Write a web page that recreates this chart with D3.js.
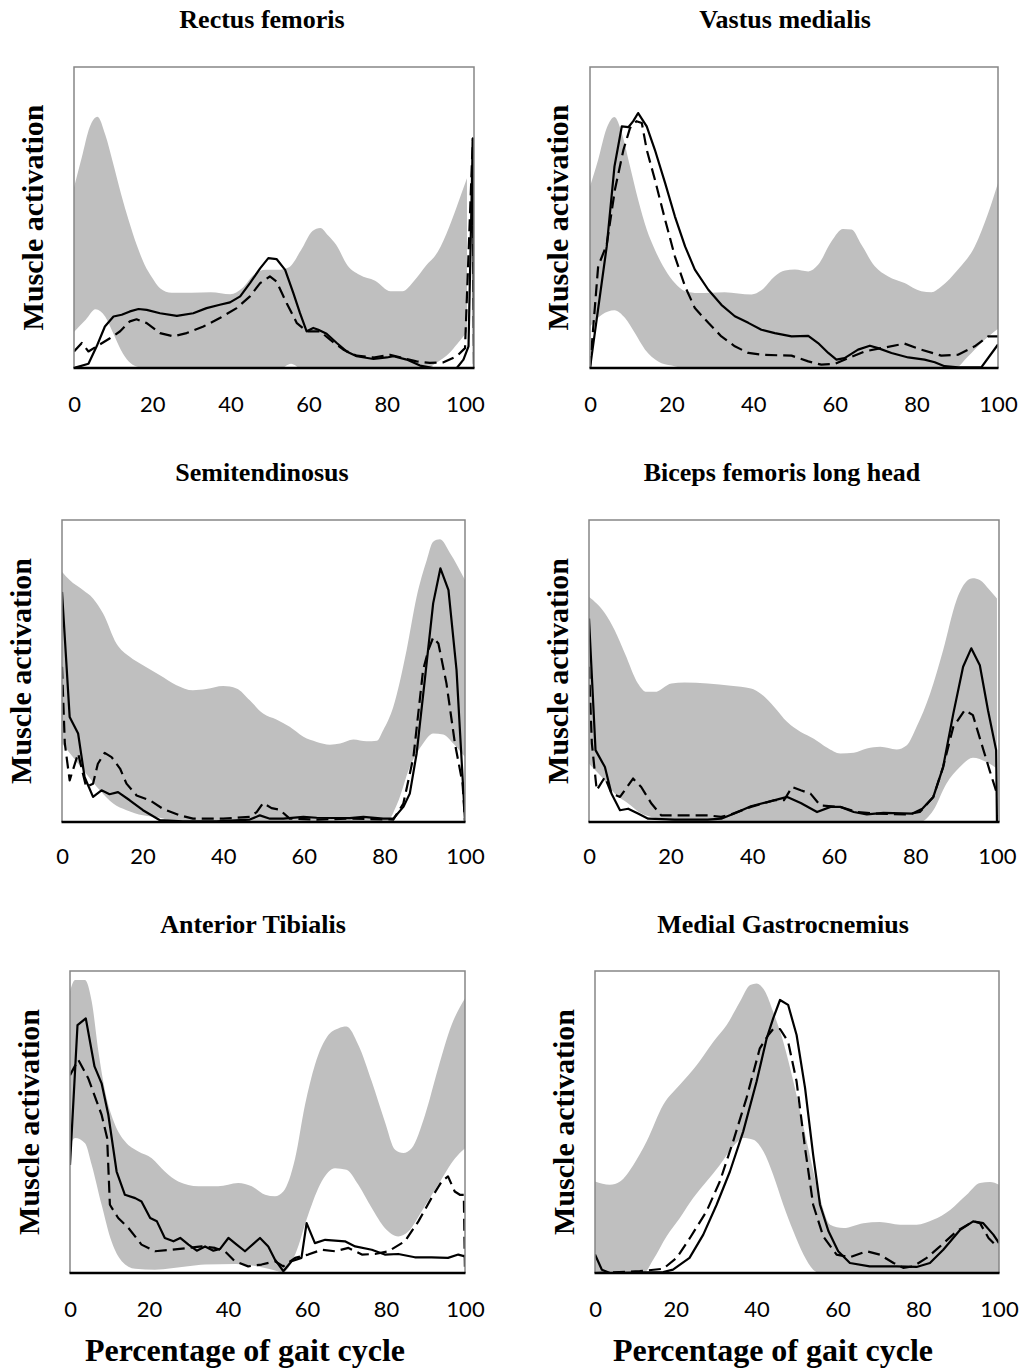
<!DOCTYPE html>
<html>
<head>
<meta charset="utf-8">
<script src="https://cdn.jsdelivr.net/npm/d3@7"></script>
<style>
  html, body { margin: 0; padding: 0; background: #ffffff; }
  svg { display: block; }
</style>
</head>
<body>
<svg id="chart" width="1027" height="1369"></svg>
<script>
// ---- Data: normalised muscle activation over the gait cycle (0-100 %) ----
// Each panel: reference band (upper/lower), solid curve and dashed curve, as [x, value].

const muscleNames = ["Rectus femoris", "Vastus medialis", "Semitendinosus",
                     "Biceps femoris long head", "Anterior Tibialis", "Medial Gastrocnemius"];
const xTickValues = [0, 20, 40, 60, 80, 100];
const yAxisTitle = "Muscle activation";
const xAxisTitle = "Percentage of gait cycle";

// Rectus femoris
const rfUpper = [[0,0.60],[2,0.70],[4,0.80],[6,0.835],[8,0.775],[10,0.68],[12,0.58],[14,0.49],[16,0.41],[18,0.345],[20,0.30],[22,0.265],[25,0.25],[30,0.25],[35,0.252],[40,0.245],[43,0.265],[46,0.31],[49,0.326],[52,0.326],[55,0.335],[58,0.39],[61,0.455],[63,0.465],[65,0.44],[67,0.41],[70,0.34],[73,0.31],[77,0.29],[81,0.255],[84,0.255],[87,0.29],[90,0.34],[93,0.385],[96,0.47],[98,0.54],[100.5,0.63]];
const rfLower = [[0,0.12],[3,0.16],[5.5,0.195],[8,0.17],[10,0.116],[12,0.06],[14,0.022],[16,0.005],[18,0],[53,0],[55.5,0.014],[58,0],[90,0],[93,0.02],[96,0.05],[98,0.08],[100.5,0.12]];
const rfSolid = [[0,0],[3.7,0.014],[5.8,0.072],[7.9,0.138],[10.1,0.171],[12.2,0.177],[14.3,0.188],[16.5,0.196],[18.6,0.193],[22,0.182],[26.3,0.173],[30.5,0.182],[33.9,0.199],[37.3,0.21],[39.9,0.218],[42.5,0.238],[45,0.282],[47.6,0.331],[49.7,0.365],[51.8,0.362],[54,0.326],[56.1,0.249],[57.8,0.182],[59.5,0.122],[61.2,0.133],[62.5,0.127],[64.6,0.114],[67.2,0.083],[69.7,0.055],[72.3,0.039],[76.6,0.03],[80,0.035],[81.7,0.039],[85.1,0.028],[88.5,0.008],[91.9,0],[97.9,0],[99.6,0.028],[100.9,0.072],[102,0.762],[102.3,0]];
const rfDashed = [[0,0.055],[2,0.083],[3.7,0.055],[5.8,0.072],[9.2,0.099],[11.8,0.122],[14.3,0.155],[16,0.162],[18.6,0.149],[22,0.116],[25.4,0.105],[28.8,0.116],[33.1,0.138],[37.3,0.166],[41.6,0.199],[45,0.238],[47.6,0.282],[50.1,0.304],[51.8,0.287],[54.4,0.215],[57,0.149],[59.5,0.122],[62.9,0.122],[65.5,0.094],[68.9,0.061],[72.3,0.041],[76.6,0.035],[80.8,0.044],[84.2,0.033],[87.6,0.022],[91,0.017],[94.5,0.019],[97.9,0.039],[100,0.066],[102,0.762],[102.3,0]];

// Vastus medialis
const vmUpper = [[0,0.603],[2,0.692],[4.1,0.797],[6,0.834],[7.8,0.78],[9.8,0.67],[11.8,0.559],[13.9,0.46],[15.9,0.393],[18.4,0.327],[20.8,0.282],[23.3,0.255],[26.5,0.249],[33,0.252],[39.6,0.244],[42,0.258],[45.3,0.305],[47.8,0.324],[50.2,0.327],[53.5,0.321],[55.9,0.343],[59.2,0.421],[62,0.462],[64.1,0.46],[66.5,0.41],[69.8,0.338],[73,0.305],[77.1,0.282],[81.2,0.255],[83.7,0.252],[86.1,0.271],[90.2,0.327],[94.3,0.404],[97.6,0.515],[100,0.615]];
const vmLower = [[0,0.138],[2.9,0.177],[6,0.192],[8.6,0.166],[11,0.116],[13.5,0.061],[16.7,0.022],[20,0.008],[23,0],[89.4,0],[92.7,0.039],[95.9,0.083],[100,0.13]];
const vmSolid = [[0,0],[4.1,0.404],[6,0.67],[7.8,0.803],[9.4,0.8],[10.6,0.82],[11.8,0.847],[13.9,0.803],[15.9,0.725],[18.4,0.615],[20.8,0.504],[23.3,0.404],[25.7,0.327],[29,0.26],[32.2,0.21],[35.5,0.172],[38.8,0.15],[42,0.127],[45.3,0.116],[49.4,0.105],[53.5,0.107],[55.9,0.083],[58.4,0.05],[60.4,0.028],[62.4,0.033],[65.7,0.061],[68.6,0.074],[70.6,0.066],[73.9,0.05],[78,0.035],[82,0.028],[84.5,0.019],[86.9,0.006],[90.2,0.002],[95.9,0.002],[100,0.078]];
const vmDashed = [[0,0],[2,0.338],[4.1,0.41],[6.1,0.592],[8.2,0.725],[9.8,0.797],[11.4,0.82],[12.7,0.814],[13.9,0.725],[15.9,0.626],[18.4,0.493],[20.8,0.371],[23.3,0.271],[25.7,0.199],[29,0.15],[32.2,0.105],[35.5,0.072],[38.8,0.05],[42,0.044],[49.4,0.041],[53.5,0.022],[56.7,0.011],[60,0.014],[63.3,0.033],[67.3,0.055],[71.4,0.066],[77.1,0.081],[81.2,0.061],[86.1,0.041],[90.2,0.044],[94.3,0.072],[97.6,0.105],[100,0.105]];

// Semitendinosus
const stUpper = [[0,0.829],[1.9,0.801],[5.2,0.768],[7.7,0.74],[10.2,0.69],[13.5,0.591],[16.8,0.547],[20.1,0.519],[24.3,0.486],[28.4,0.453],[32.5,0.436],[35.8,0.44],[40,0.45],[43.3,0.442],[46.6,0.403],[49.9,0.359],[53.2,0.339],[56.5,0.315],[59.9,0.282],[63.2,0.265],[66.5,0.256],[69,0.26],[72.3,0.273],[75.6,0.267],[78.1,0.269],[79.7,0.304],[82.2,0.381],[85.5,0.569],[88,0.746],[90.5,0.867],[92.1,0.928],[93.8,0.936],[96.3,0.89],[100,0.801]];
const stLower = [[0,0.26],[2.7,0.215],[6,0.16],[9.4,0.105],[12.7,0.061],[16,0.039],[20.1,0.022],[24.3,0.014],[27.5,0.003],[30,0],[80.5,0],[83.2,0.061],[86.3,0.182],[89.6,0.26],[92.1,0.293],[94.6,0.29],[97.1,0.26],[100,0.215]];
const stSolid = [[0,0.762],[1.9,0.348],[4,0.293],[5.6,0.149],[7.7,0.083],[9.8,0.105],[11.8,0.092],[13.9,0.099],[16.8,0.072],[20.1,0.039],[24.3,0.006],[30,0.002],[38.3,0.002],[46.6,0.008],[49.1,0.022],[51.6,0.011],[54.9,0.011],[59.9,0.017],[63.2,0.014],[71.4,0.013],[74.8,0.017],[79.7,0.011],[82.2,0.011],[84.7,0.05],[86.3,0.094],[88,0.227],[90.1,0.48],[92.1,0.724],[93.9,0.84],[95.9,0.768],[97.9,0.503],[100,0.005]];
const stDashed = [[0,0.514],[0.7,0.26],[1.9,0.138],[4,0.227],[5.2,0.16],[6,0.116],[7.7,0.127],[8.9,0.193],[10.6,0.229],[12.3,0.215],[14.4,0.177],[16,0.127],[18.5,0.088],[21.8,0.072],[25,0.044],[29.2,0.022],[32.5,0.011],[40,0.011],[46.6,0.017],[48.3,0.033],[49.9,0.063],[52,0.046],[54,0.041],[56.5,0.011],[63.2,0.008],[71.4,0.011],[82.2,0.008],[84.7,0.061],[87.2,0.215],[89.6,0.503],[90.9,0.569],[92.1,0.611],[93.4,0.591],[95.4,0.459],[97.5,0.26],[99.4,0.127],[100,0]];

// Biceps femoris long head
const bfUpper = [[0,0.746],[3.9,0.691],[6.3,0.635],[8.8,0.558],[12,0.459],[14.1,0.431],[16.1,0.431],[20.2,0.459],[23.4,0.462],[29.1,0.459],[34.8,0.451],[39.7,0.442],[42.1,0.425],[45.4,0.381],[48.6,0.331],[51.9,0.298],[55.1,0.276],[58.4,0.246],[61.6,0.227],[64.9,0.229],[68.1,0.243],[71.4,0.249],[75.4,0.24],[77.9,0.254],[80.3,0.315],[83.6,0.425],[86.8,0.569],[90.1,0.735],[92.5,0.796],[94.1,0.807],[95.8,0.801],[98.2,0.768],[100,0.74]];
const bfLower = [[0,0.193],[3.1,0.149],[6.3,0.094],[9.6,0.061],[12.8,0.028],[16.1,0.014],[19.3,0.006],[22,0],[81.1,0],[84.4,0.039],[87.6,0.127],[90.9,0.182],[94.1,0.213],[97.4,0.199],[100,0.177]];
const bfSolid = [[0,0.674],[1.6,0.238],[3.9,0.182],[5.5,0.094],[7.6,0.039],[9.6,0.044],[12,0.028],[14.5,0.011],[21,0.008],[29.1,0.008],[32.4,0.011],[35.6,0.028],[39.7,0.052],[43.7,0.066],[48.6,0.083],[51.9,0.063],[55.9,0.033],[59.2,0.05],[61.6,0.05],[64.9,0.033],[68.1,0.025],[72.2,0.03],[79.3,0.028],[81.7,0.044],[84.4,0.083],[86.8,0.182],[89.3,0.359],[91.7,0.514],[93.7,0.575],[95.8,0.519],[97.8,0.37],[99.8,0.238],[100,0]];
const bfDashed = [[0,0.514],[0.7,0.26],[1.9,0.105],[3.9,0.149],[5.5,0.094],[7.6,0.083],[10.8,0.144],[12.8,0.116],[15.3,0.061],[17.7,0.022],[21,0.022],[29.1,0.022],[32.4,0.017],[34.8,0.025],[39.7,0.05],[45.4,0.072],[47.8,0.072],[49.8,0.116],[51.9,0.105],[54.3,0.094],[56.7,0.055],[61.6,0.05],[65.7,0.033],[69.8,0.028],[77.9,0.025],[81.1,0.033],[84.4,0.083],[86.8,0.182],[89.3,0.315],[92.1,0.37],[94.1,0.354],[96.2,0.26],[98.2,0.171],[100,0.094]];

// Anterior Tibialis
const taUpper = [[0,0.932],[1.3,0.97],[3.8,0.97],[5.5,0.899],[7.2,0.733],[8.9,0.601],[11.4,0.491],[13.9,0.436],[17.3,0.402],[20.7,0.38],[24,0.336],[27.4,0.303],[32.5,0.287],[37.5,0.287],[42.6,0.298],[46,0.287],[49.4,0.259],[51.9,0.254],[54,0.27],[57,0.38],[59.5,0.557],[62,0.689],[65.4,0.788],[67.9,0.81],[70,0.816],[73,0.755],[76.4,0.634],[79.7,0.502],[82.3,0.408],[84.4,0.397],[86.5,0.413],[89.9,0.524],[93.2,0.678],[96.6,0.821],[100,0.91]];
const taLower = [[0,0.424],[1.3,0.447],[3.8,0.43],[5.5,0.358],[8,0.226],[10.5,0.105],[13.1,0.039],[16.5,0.014],[21.5,0.011],[29.9,0.022],[34.2,0.028],[42,0.03],[46,0.025],[51,0.012],[54,0.003],[57,0.061],[60.3,0.193],[63.7,0.303],[67.1,0.347],[70,0.342],[73,0.292],[76.4,0.215],[79.7,0.149],[83.1,0.121],[85.7,0.138],[89,0.204],[93.2,0.292],[97.5,0.38],[100,0.413]];
const taSolid = [[0,0.358],[1.9,0.821],[4,0.843],[6.2,0.684],[8,0.628],[9.7,0.524],[11.8,0.336],[13.9,0.259],[16.5,0.248],[18.1,0.237],[20.3,0.182],[22,0.171],[24,0.116],[26.2,0.105],[27.9,0.116],[30,0.094],[32.1,0.074],[34.2,0.088],[36.3,0.074],[38,0.08],[40.1,0.116],[42.2,0.094],[44.3,0.072],[48.1,0.116],[50.2,0.088],[51.9,0.044],[54,0.006],[56.1,0.039],[58.6,0.05],[59.9,0.165],[62,0.099],[64.6,0.11],[69.6,0.105],[72.2,0.088],[76.4,0.077],[79.7,0.061],[83.1,0.063],[87.3,0.052],[91.5,0.052],[95.7,0.05],[98.3,0.061],[100,0.055]];
const taDashed = [[0,0.655],[2.1,0.706],[4.6,0.645],[8,0.524],[9.4,0.447],[10.1,0.226],[12.2,0.182],[14.8,0.149],[18.1,0.094],[21.5,0.072],[25.7,0.077],[30,0.083],[33.3,0.088],[36.7,0.083],[39.2,0.072],[41.7,0.039],[45.1,0.022],[48.5,0.028],[51.9,0.039],[54,0.022],[57,0.05],[60.3,0.061],[63.7,0.077],[67.1,0.072],[70.5,0.083],[73.9,0.061],[77.2,0.063],[80.6,0.072],[84.8,0.105],[88.2,0.171],[91.5,0.248],[94.1,0.303],[95.7,0.32],[97.4,0.27],[98.7,0.259],[99.7,0.259],[100,0]];

// Medial Gastrocnemius
const mgUpper = [[0,0.303],[3.7,0.292],[6.2,0.303],[9.5,0.358],[12.8,0.436],[16.9,0.557],[21,0.623],[25.2,0.689],[29.3,0.766],[32.6,0.821],[35.9,0.899],[38.4,0.954],[40,0.959],[42.1,0.932],[44.1,0.865],[46.6,0.766],[49.1,0.634],[52.4,0.436],[55.7,0.248],[58.2,0.16],[61.5,0.149],[66.4,0.165],[70.5,0.169],[75.5,0.16],[79.6,0.16],[83.7,0.176],[87.9,0.209],[92,0.259],[95.3,0.298],[97.8,0.301],[100,0.292]];
const mgLower = [[0,0],[12,0],[14.4,0.044],[17.7,0.121],[21,0.182],[24.3,0.248],[27.6,0.303],[30.9,0.358],[34.2,0.419],[36.7,0.447],[39.2,0.441],[41.7,0.402],[44.1,0.325],[46.6,0.226],[49.1,0.138],[51.6,0.061],[54,0.011],[55.7,0],[100,0]];
const mgSolid = [[0,0.061],[1.7,0.011],[3.7,0],[16.9,0.003],[19.3,0.011],[23.4,0.05],[26.8,0.127],[30.1,0.226],[33.4,0.336],[36.7,0.469],[40,0.634],[42.5,0.777],[44.1,0.843],[45.8,0.904],[47.8,0.888],[49.9,0.788],[52,0.612],[54,0.391],[55.7,0.226],[57.8,0.138],[60.2,0.072],[63.1,0.033],[68,0.022],[74.7,0.022],[79.6,0.02],[82.9,0.033],[86.2,0.077],[90.4,0.143],[93.6,0.171],[96.1,0.165],[98.6,0.127],[100,0.099]];
const mgDashed = [[0,0],[11.1,0.006],[16.9,0.014],[20.2,0.05],[23.5,0.116],[27.6,0.204],[30.9,0.303],[34.2,0.436],[37.5,0.579],[40.8,0.744],[42.9,0.788],[44.1,0.808],[45.8,0.808],[47.8,0.766],[49.9,0.634],[52,0.413],[54,0.226],[56.5,0.121],[59.8,0.061],[63.1,0.052],[67.2,0.072],[70.5,0.061],[73.9,0.033],[76.3,0.017],[78.8,0.022],[82.1,0.05],[85.4,0.088],[89.5,0.138],[93.6,0.171],[95.3,0.165],[97.4,0.116],[99,0.094]];

const bandUpper = [rfUpper, vmUpper, stUpper, bfUpper, taUpper, mgUpper];
const bandLower = [rfLower, vmLower, stLower, bfLower, taLower, mgLower];
const solidSeries = [rfSolid, vmSolid, stSolid, bfSolid, taSolid, mgSolid];
const dashedSeries = [rfDashed, vmDashed, stDashed, bfDashed, taDashed, mgDashed];

// ---- Layout of the six panels (plot box edges, title and label placement) ----
const layout = [
  { left: 74,  top: 67,  right: 474, bottom: 368,  xMax: 102.3, titleX: 262, titleY: 28,  tickY: 412,  ylabX: 43 },
  { left: 590, top: 67,  right: 998, bottom: 368,  xMax: 100,   titleX: 785, titleY: 28,  tickY: 412,  ylabX: 568 },
  { left: 62,  top: 520, right: 465, bottom: 822,  xMax: 100,   titleX: 262, titleY: 481, tickY: 864,  ylabX: 31 },
  { left: 589, top: 520, right: 999, bottom: 822,  xMax: 100.5, titleX: 782, titleY: 481, tickY: 864,  ylabX: 568 },
  { left: 70,  top: 971, right: 465, bottom: 1273, xMax: 100,   titleX: 253, titleY: 933, tickY: 1317, ylabX: 39 },
  { left: 595, top: 971, right: 999, bottom: 1273, xMax: 100,   titleX: 783, titleY: 933, tickY: 1317, ylabX: 574 }
];
const xTitlePos = [{ x: 245, y: 1361 }, { x: 773, y: 1361 }];

const serif = "'Liberation Serif', 'Times New Roman', serif";
const sans = "Lato, 'Open Sans', sans-serif";

const svg = d3.select("#chart");
const defs = svg.append("defs");

layout.forEach((p, i) => {
  const x = d3.scaleLinear().domain([0, p.xMax]).range([p.left, p.right]);
  const y = d3.scaleLinear().domain([0, 1]).range([p.bottom, p.top]);

  defs.append("clipPath").attr("id", "clip" + i)
    .append("rect")
    .attr("x", p.left).attr("y", p.top - 2)
    .attr("width", p.right - p.left).attr("height", p.bottom - p.top + 2);

  const g = svg.append("g");
  const plot = g.append("g").attr("clip-path", `url(#clip${i})`);

  const area = d3.area()
    .x(d => x(d[0])).y0(y(0)).y1(d => y(d[1]))
    .curve(d3.curveMonotoneX);

  // grey reference band: fill below the upper limit, then clear below the lower limit
  plot.append("path").datum(bandUpper[i]).attr("d", area).attr("fill", "#bfbfbf");
  plot.append("path").datum(bandLower[i]).attr("d", area).attr("fill", "#ffffff");

  const line = d3.line().x(d => x(d[0])).y(d => y(d[1])).curve(d3.curveLinear);

  plot.append("path").datum(dashedSeries[i]).attr("d", line)
    .attr("fill", "none").attr("stroke", "#000").attr("stroke-width", 2.2)
    .attr("stroke-dasharray", "12,6").attr("stroke-linejoin", "round");
  plot.append("path").datum(solidSeries[i]).attr("d", line)
    .attr("fill", "none").attr("stroke", "#000").attr("stroke-width", 2.2)
    .attr("stroke-linejoin", "round");

  // plot frame: grey top/left/right, black baseline
  g.append("path")
    .attr("d", `M${p.left},${p.bottom}V${p.top}H${p.right}V${p.bottom}`)
    .attr("fill", "none").attr("stroke", "#868686").attr("stroke-width", 1.5);
  g.append("line")
    .attr("x1", p.left - 0.5).attr("x2", p.right + 0.5)
    .attr("y1", p.bottom).attr("y2", p.bottom)
    .attr("stroke", "#000").attr("stroke-width", 2.5);

  // x tick labels
  const axis = d3.axisBottom(x).tickValues(xTickValues).tickSize(0).tickFormat(d3.format("d"));
  const ax = g.append("g").attr("transform", `translate(0,${p.bottom})`).call(axis);
  ax.select(".domain").remove();
  ax.selectAll("text")
    .attr("y", p.tickY - p.bottom).attr("dy", 0)
    .attr("font-family", sans).attr("font-size", 22).attr("fill", "#000");

  // panel title
  g.append("text")
    .attr("x", p.titleX).attr("y", p.titleY)
    .attr("text-anchor", "middle")
    .attr("font-family", serif).attr("font-weight", "bold").attr("font-size", 26)
    .text(muscleNames[i]);

  // y axis title
  g.append("text")
    .attr("transform", `translate(${p.ylabX},${(p.top + p.bottom) / 2}) rotate(-90)`)
    .attr("text-anchor", "middle")
    .attr("font-family", serif).attr("font-weight", "bold").attr("font-size", 30)
    .text(yAxisTitle);
});

xTitlePos.forEach(pos => {
  svg.append("text")
    .attr("x", pos.x).attr("y", pos.y)
    .attr("text-anchor", "middle")
    .attr("font-family", serif).attr("font-weight", "bold").attr("font-size", 32)
    .text(xAxisTitle);
});
</script>
</body>
</html>
